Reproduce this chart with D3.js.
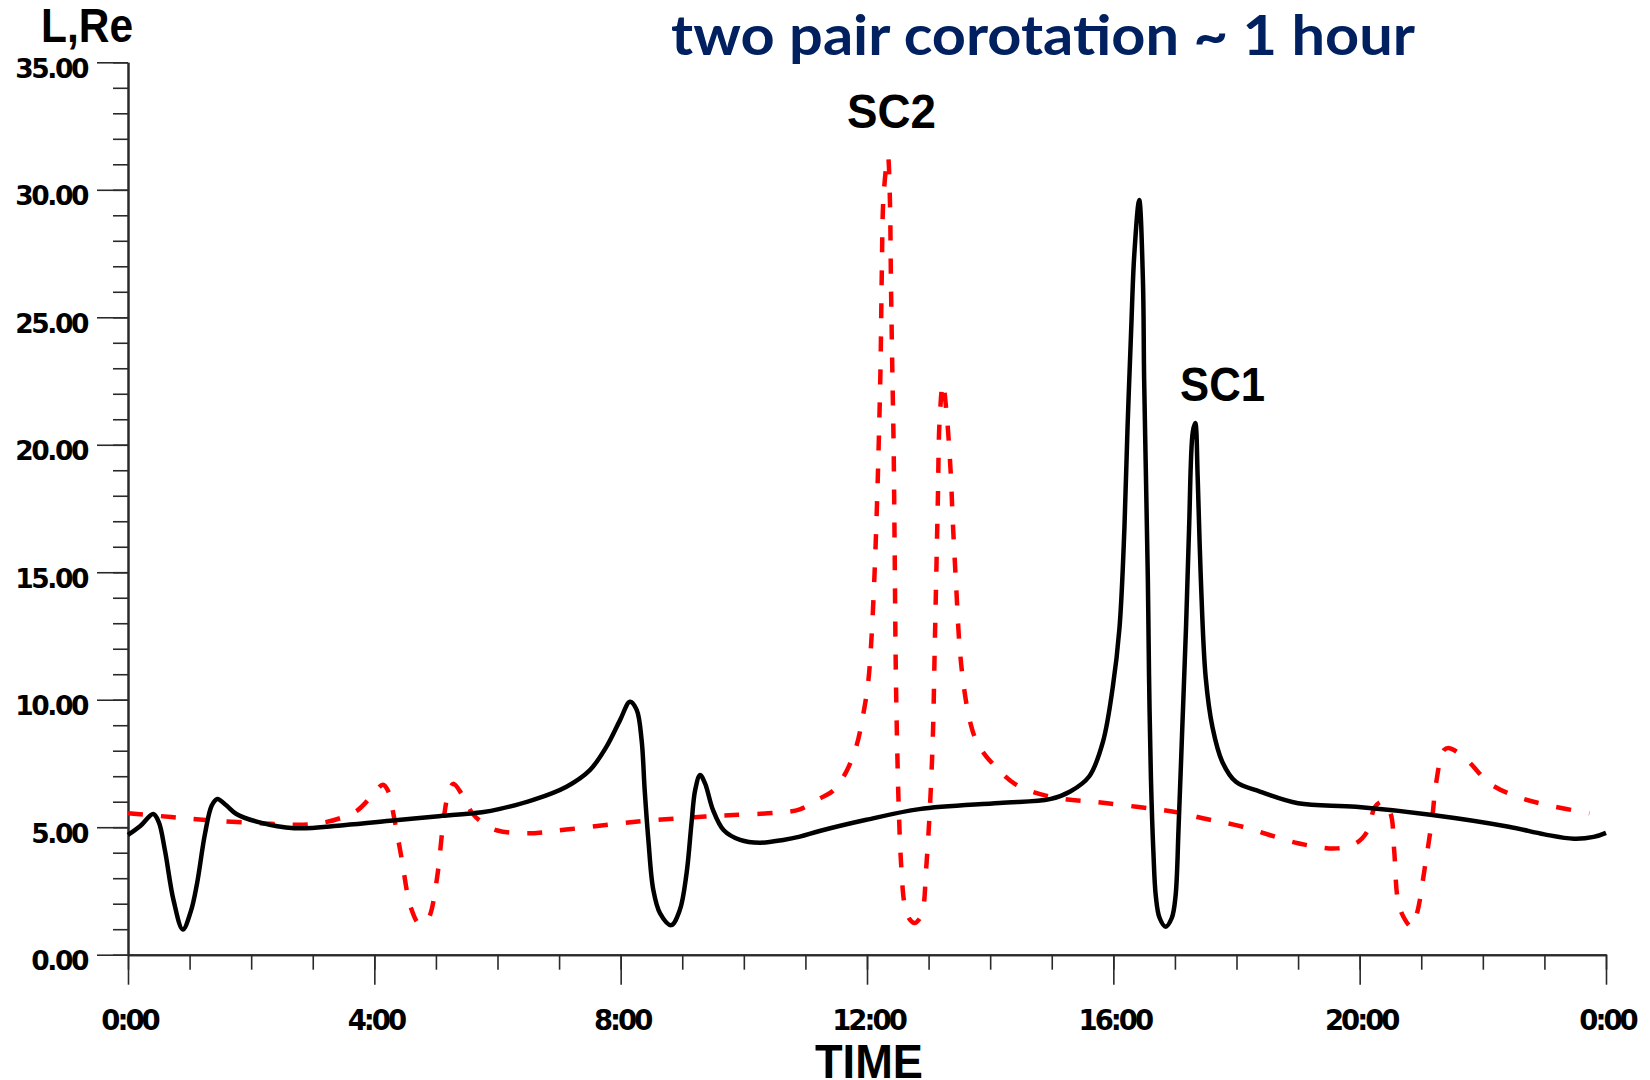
<!DOCTYPE html>
<html>
<head>
<meta charset="utf-8">
<script src="https://cdn.jsdelivr.net/npm/d3@7"></script>
<style>
  html, body { margin: 0; padding: 0; background: #fff; }
  svg { display: block; }
</style>
</head>
<body>
<svg id="chart" width="1650" height="1080"></svg>
<script>
// ---------- DATA ----------
// hours since 0:00, L (Re)
const scBlackT = [0, 0.2, 0.41, 0.5, 0.6, 0.74, 0.89, 1.02, 1.12, 1.25, 1.36, 1.45, 1.6, 1.76, 2.12, 2.7, 3.5, 4.3, 5.0, 5.75, 6.04, 6.58, 7.12, 7.5, 7.77, 7.99, 8.15, 8.26, 8.34, 8.39, 8.45, 8.53, 8.64, 8.82, 8.96, 9.07, 9.15, 9.21, 9.29, 9.37, 9.5, 9.67, 9.94, 10.26, 10.64, 10.91, 11.23, 11.99, 12.85, 14.15, 14.97, 15.3, 15.61, 15.83, 15.99, 16.1, 16.18, 16.23, 16.29, 16.34, 16.42, 16.48, 16.5, 16.53, 16.56, 16.58, 16.61, 16.65, 16.69, 16.75, 16.85, 16.95, 17.01, 17.06, 17.12, 17.18, 17.23, 17.29, 17.33, 17.37, 17.42, 17.5, 17.61, 17.77, 17.99, 18.38, 19.0, 19.94, 21.18, 22.42, 23.0, 23.48, 23.8, 24];
const scBlackL = [4.70, 5.05, 5.52, 5.2, 4.09, 2.13, 0.99, 1.7, 2.78, 4.74, 5.85, 6.11, 5.85, 5.52, 5.2, 4.96, 5.08, 5.26, 5.42, 5.59, 5.72, 6.07, 6.59, 7.24, 8.16, 9.2, 9.92, 9.6, 8.42, 6.46, 4.5, 2.54, 1.62, 1.16, 1.75, 3.19, 5.15, 6.46, 7.05, 6.72, 5.67, 4.89, 4.5, 4.39, 4.5, 4.63, 4.85, 5.29, 5.71, 5.95, 6.1, 6.4, 7.0, 8.34, 10.48, 12.82, 16.73, 20.63, 24.53, 27.45, 29.6, 26.5, 22.6, 18.7, 14.8, 10.9, 6.97, 4.05, 2.29, 1.45, 1.1, 1.45, 2.29, 5.02, 8.92, 12.82, 16.73, 20.5, 20.85, 18.7, 14.8, 10.87, 8.92, 7.56, 6.78, 6.4, 5.94, 5.8, 5.48, 5.02, 4.72, 4.55, 4.62, 4.78];

const scRedT = [0, 0.7, 1.4, 2.2, 2.85, 3.21, 3.5, 3.72, 3.95, 4.14, 4.22, 4.33, 4.44, 4.59, 4.73, 4.85, 4.91, 5.02, 5.13, 5.2, 5.28, 5.42, 5.6, 5.8, 6.0, 6.47, 7.2, 8.28, 9.37, 9.83, 10.6, 10.91, 11.23, 11.45, 11.66, 11.83, 11.94, 12.02, 12.07, 12.12, 12.16, 12.19, 12.22, 12.24, 12.27, 12.34, 12.37, 12.39, 12.41, 12.432, 12.449, 12.465, 12.486, 12.519, 12.557, 12.611, 12.69, 12.773, 12.85, 12.908, 12.962, 13.016, 13.07, 13.097, 13.124, 13.151, 13.178, 13.232, 13.297, 13.357, 13.395, 13.449, 13.503, 13.573, 13.665, 13.773, 13.935, 14.04, 14.4, 14.97, 15.9, 17.07, 17.45, 18.1, 19.0, 19.63, 19.94, 20.12, 20.25, 20.37, 20.5, 20.56, 20.62, 20.71, 20.84, 20.93, 21.06, 21.18, 21.24, 21.37, 21.46, 21.74, 22.11, 22.55, 23.04, 23.73];
const scRedL = [5.55, 5.4, 5.26, 5.15, 5.1, 5.2, 5.4, 5.65, 6.2, 6.67, 6.44, 5.26, 3.82, 1.87, 1.21, 1.35, 1.6, 3.04, 5.39, 6.3, 6.7, 6.3, 5.52, 5.1, 4.87, 4.76, 4.93, 5.22, 5.42, 5.48, 5.58, 5.7, 6.12, 6.43, 7.16, 8.2, 9.44, 10.7, 12.3, 14.8, 17.5, 20.0, 23.1, 26.7, 29.8, 31.3, 29.8, 26.2, 23.1, 20.0, 15.9, 11.7, 8.6, 5.5, 3.42, 1.97, 1.4, 1.24, 1.4, 1.76, 3.42, 5.5, 8.6, 11.7, 14.8, 17.9, 20.9, 22.4, 21.1, 19.0, 16.9, 14.4, 12.1, 10.5, 9.23, 8.4, 7.78, 7.5, 6.7, 6.2, 5.94, 5.57, 5.35, 5.02, 4.37, 4.17, 4.37, 4.82, 5.8, 6.0, 5.55, 4.1, 2.15, 1.49, 1.1, 1.62, 3.45, 5.41, 6.72, 8.03, 8.1, 7.64, 6.72, 6.2, 5.87, 5.55];

const xMajorTicks = [0, 4, 8, 12, 16, 20, 24];
const xTickLabels = ["0:00", "4:00", "8:00", "12:00", "16:00", "20:00", "0:00"];
const xMinorTicks = d3.range(0, 25, 1);
const yMajorTicks = [0, 5, 10, 15, 20, 25, 30, 35];
const yMinorTicks = d3.range(0, 36, 1);

const titleText = "two pair corotation ~ 1 hour";
const yTitle = "L,Re";
const xTitle = "TIME";
const label1 = "SC1";
const label2 = "SC2";

// ---------- CHART ----------
const svg = d3.select("#chart");
const x = d3.scaleLinear().domain([0, 24]).range([128, 1606]);
const y = d3.scaleLinear().domain([0, 35]).range([954.7, 62.3]);

const axisColor = "#2a2a2a";

const gxm = svg.append("g").attr("transform", `translate(0,${y(0)})`)
  .call(d3.axisBottom(x).tickValues(xMinorTicks).tickSize(15).tickSizeOuter(0).tickFormat(""));
const gx = svg.append("g").attr("transform", `translate(0,${y(0)})`)
  .call(d3.axisBottom(x).tickValues(xMajorTicks).tickSize(30).tickSizeOuter(0)
    .tickFormat((d, i) => xTickLabels[i]));
const gym = svg.append("g").attr("transform", `translate(${x(0)},0)`)
  .call(d3.axisLeft(y).tickValues(yMinorTicks).tickSize(15).tickSizeOuter(0).tickFormat(""));
const gy = svg.append("g").attr("transform", `translate(${x(0)},0)`)
  .call(d3.axisLeft(y).tickValues(yMajorTicks).tickSize(31).tickSizeOuter(0)
    .tickFormat(d3.format(".2f")));

[gxm, gx, gym, gy].forEach(g => {
  g.select(".domain").attr("stroke", axisColor).attr("stroke-width", 2);
  g.selectAll(".tick line").attr("stroke", axisColor).attr("stroke-width", 1.6);
});

gx.selectAll(".tick text")
  .attr("y", 75).attr("dy", 0).attr("x", 1)
  .attr("fill", "#000")
  .style("font-family", "'DejaVu Sans', sans-serif")
  .style("font-weight", "bold")
  .style("font-size", "27.5px")
  .style("letter-spacing", "-3px");

gy.selectAll(".tick text")
  .attr("x", -41).attr("y", 15).attr("dy", 0)
  .attr("fill", "#000")
  .style("font-family", "'DejaVu Sans', sans-serif")
  .style("font-weight", "bold")
  .style("font-size", "26.5px")
  .style("letter-spacing", "-2.4px");

// lines
const black = scBlackT.map((t, i) => [t, scBlackL[i]]);
const red = scRedT.map((t, i) => [t, scRedL[i]]);
const line = d3.line().x(d => x(d[0])).y(d => y(d[1])).curve(d3.curveCatmullRom.alpha(0.5));

svg.append("path").datum(red)
  .attr("d", line)
  .attr("fill", "none")
  .attr("stroke", "#ff0000")
  .attr("stroke-width", 4.5)
  .attr("stroke-dasharray", "15,18");

svg.append("path").datum(black)
  .attr("d", line)
  .attr("fill", "none")
  .attr("stroke", "#000")
  .attr("stroke-width", 4.5)
  .attr("stroke-linejoin", "round");

// texts
const boldSans = "'Liberation Sans', Arial, sans-serif";
svg.append("text").attr("x", 41).attr("y", 41.5)
  .attr("textLength", 92).attr("lengthAdjust", "spacingAndGlyphs")
  .style("font-family", boldSans).style("font-weight", "bold").style("font-size", "48px")
  .text(yTitle);

svg.append("text").attr("x", 815).attr("y", 1078)
  .attr("textLength", 108).attr("lengthAdjust", "spacingAndGlyphs")
  .style("font-family", boldSans).style("font-weight", "bold").style("font-size", "49px")
  .text(xTitle);

svg.append("text").attr("x", 847).attr("y", 128)
  .attr("textLength", 89).attr("lengthAdjust", "spacingAndGlyphs")
  .style("font-family", boldSans).style("font-weight", "bold").style("font-size", "48px")
  .text(label2);

svg.append("text").attr("x", 1180).attr("y", 401)
  .attr("textLength", 85).attr("lengthAdjust", "spacingAndGlyphs")
  .style("font-family", boldSans).style("font-weight", "bold").style("font-size", "48px")
  .text(label1);

svg.append("text").attr("x", 671).attr("y", 55)
  .attr("textLength", 744).attr("lengthAdjust", "spacingAndGlyphs")
  .attr("fill", "#002060")
  .style("font-family", "Lato, 'Open Sans', sans-serif").style("font-weight", "bold").style("font-size", "55px")
  .text(titleText);
</script>
</body>
</html>
